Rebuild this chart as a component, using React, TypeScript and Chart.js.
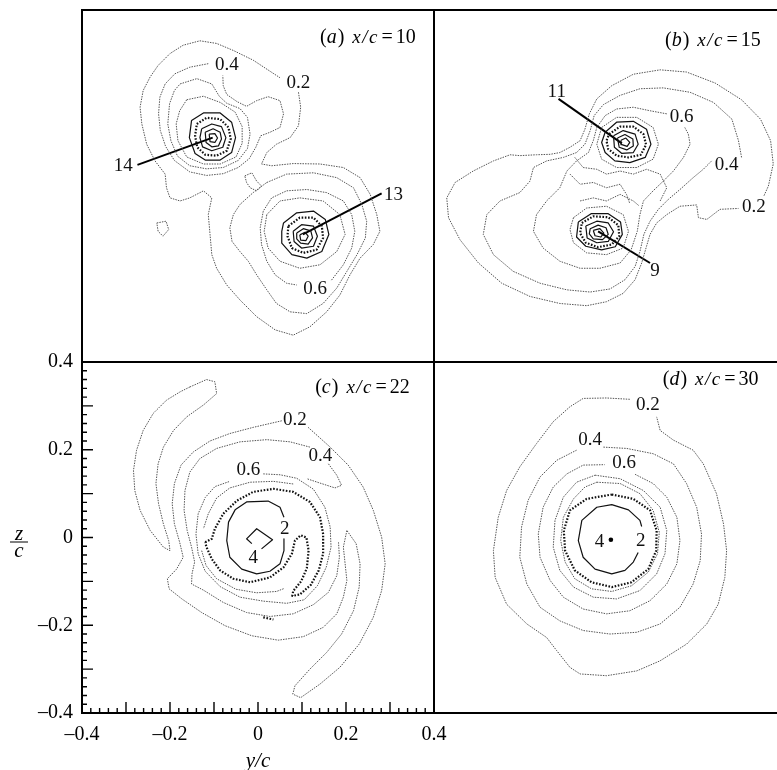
import React, { useEffect, useRef } from "react";
import { Chart, registerables } from "chart.js";

Chart.register(...registerables);

type Pt = [number, number]; // [y/c, z/c]

// ---------------- axis ticks (panel c) ----------------
const AXIS_TICKS = [-0.4, -0.2, 0, 0.2, 0.4];

// ---------------- panel headings ----------------
const HEAD_LETTER = ["a", "b", "c", "d"];
const HEAD_VALUE = ["10", "15", "22", "30"];
const HEAD_Y = [0.141, 0.125, 0.13, 0.12];
const HEAD_Z = [0.325, 0.318, 0.33, 0.348];

// ================= (a) x/c = 10 =================
const A_OUTER_02: Pt[] = [
  [0.092, 0.213], [0.097, 0.179], [0.092, 0.137], [0.073, 0.11], [0.042, 0.095], [0.02, 0.076], [0.008, 0.05],
  [0.031, 0.046], [0.08, 0.051], [0.141, 0.05], [0.194, 0.042], [0.232, 0.019], [0.255, -0.019], [0.27, -0.065],
  [0.277, -0.103], [0.262, -0.133], [0.232, -0.164], [0.209, -0.202], [0.186, -0.248], [0.156, -0.286],
  [0.118, -0.32], [0.08, -0.339], [0.039, -0.327], [-0.003, -0.297], [-0.041, -0.259], [-0.071, -0.225],
  [-0.094, -0.187], [-0.105, -0.156], [-0.109, -0.11], [-0.113, -0.065], [-0.105, -0.027], [-0.124, -0.011],
  [-0.155, -0.027], [-0.177, -0.034], [-0.2, -0.027], [-0.208, -0.004], [-0.211, 0.027], [-0.234, 0.057],
  [-0.253, 0.095], [-0.264, 0.141], [-0.268, 0.179], [-0.261, 0.217], [-0.245, 0.248], [-0.227, 0.274],
  [-0.2, 0.301], [-0.17, 0.32], [-0.132, 0.33], [-0.094, 0.324], [-0.056, 0.308], [-0.011, 0.286],
  [0.027, 0.261], [0.05, 0.246],
];
const A_TOP_04: Pt[] = [
  [-0.113, 0.278], [-0.155, 0.27], [-0.189, 0.255], [-0.211, 0.232], [-0.223, 0.202], [-0.226, 0.164],
  [-0.222, 0.126], [-0.21, 0.09], [-0.19, 0.058], [-0.155, 0.032], [-0.117, 0.024], [-0.079, 0.028],
  [-0.045, 0.042], [-0.02, 0.062], [-0.005, 0.088], [0.006, 0.114], [0.027, 0.122], [0.05, 0.133],
  [0.058, 0.164], [0.05, 0.194], [0.023, 0.203], [-0.003, 0.194], [-0.026, 0.181], [-0.048, 0.192],
  [-0.071, 0.208], [-0.079, 0.228], [-0.08, 0.251],
];
const A_TOP_06: Pt[] = [
  [-0.177, 0.232], [-0.139, 0.244], [-0.105, 0.232], [-0.088, 0.204], [-0.071, 0.188], [-0.041, 0.176],
  [-0.024, 0.156], [-0.018, 0.118], [-0.024, 0.085], [-0.045, 0.058], [-0.079, 0.042], [-0.117, 0.039],
  [-0.155, 0.046], [-0.183, 0.068], [-0.198, 0.103], [-0.205, 0.141], [-0.201, 0.187], [-0.19, 0.217],
];
const A_TOP_08: Pt[] = [
  [-0.162, 0.196], [-0.124, 0.204], [-0.086, 0.19], [-0.052, 0.168], [-0.036, 0.135], [-0.036, 0.097],
  [-0.05, 0.066], [-0.086, 0.05], [-0.124, 0.05], [-0.162, 0.066], [-0.182, 0.103], [-0.186, 0.141], [-0.178, 0.171],
];
const A_TOP_S1: Pt[] = [
  [-0.151, 0.149], [-0.124, 0.166], [-0.086, 0.166], [-0.06, 0.145], [-0.051, 0.11], [-0.06, 0.076],
  [-0.086, 0.059], [-0.12, 0.059], [-0.143, 0.074], [-0.156, 0.11],
];
const A_TOP_D: Pt[] = [
  [-0.139, 0.141], [-0.117, 0.155], [-0.086, 0.152], [-0.067, 0.133], [-0.062, 0.107], [-0.071, 0.08],
  [-0.094, 0.069], [-0.12, 0.071], [-0.138, 0.088], [-0.143, 0.114],
];
const A_TOP_S2: Pt[] = [
  [-0.128, 0.13], [-0.105, 0.141], [-0.083, 0.135], [-0.073, 0.11], [-0.08, 0.088], [-0.105, 0.08], [-0.126, 0.089], [-0.132, 0.11],
];
const A_TOP_S3: Pt[] = [
  [-0.12, 0.122], [-0.102, 0.13], [-0.086, 0.122], [-0.083, 0.107], [-0.09, 0.091], [-0.105, 0.089], [-0.118, 0.099],
];
const A_TOP_S4: Pt[] = [[-0.111, 0.118], [-0.098, 0.119], [-0.092, 0.109], [-0.098, 0.099], [-0.109, 0.101]];

const A_BOT_04: Pt[] = [
  [0.02, 0.008], [0.065, 0.027], [0.126, 0.03], [0.179, 0.019], [0.217, -0.004], [0.236, -0.042], [0.247, -0.08],
  [0.244, -0.118], [0.225, -0.156], [0.202, -0.194], [0.179, -0.232], [0.148, -0.267], [0.111, -0.29],
  [0.073, -0.286], [0.042, -0.267], [0.02, -0.236], [-0.003, -0.202], [-0.022, -0.171], [-0.041, -0.149],
  [-0.059, -0.126], [-0.064, -0.095], [-0.056, -0.065], [-0.041, -0.042], [-0.011, -0.015],
];
const A_BOT_06: Pt[] = [
  [0.167, -0.214], [0.194, -0.179], [0.213, -0.141], [0.22, -0.103], [0.213, -0.065], [0.194, -0.034],
  [0.156, -0.015], [0.111, -0.008], [0.065, -0.011], [0.031, -0.027], [0.012, -0.057], [0.005, -0.095],
  [0.008, -0.133], [0.02, -0.171], [0.039, -0.202], [0.065, -0.221], [0.088, -0.225],
];
const A_BOT_08: Pt[] = [
  [0.02, -0.065], [0.05, -0.034], [0.095, -0.027], [0.148, -0.034], [0.186, -0.065], [0.198, -0.11],
  [0.179, -0.149], [0.141, -0.179], [0.095, -0.187], [0.05, -0.171], [0.023, -0.141], [0.014, -0.103],
];
const A_BOT_S1: Pt[] = [
  [0.058, -0.084], [0.088, -0.061], [0.126, -0.057], [0.153, -0.076], [0.161, -0.11], [0.145, -0.149],
  [0.111, -0.164], [0.077, -0.156], [0.054, -0.13], [0.054, -0.103],
];
const A_BOT_D: Pt[] = [
  [0.069, -0.091], [0.095, -0.072], [0.126, -0.072], [0.145, -0.091], [0.148, -0.118], [0.133, -0.145],
  [0.103, -0.152], [0.077, -0.141], [0.067, -0.114],
];
const A_BOT_S2: Pt[] = [
  [0.08, -0.103], [0.099, -0.088], [0.126, -0.091], [0.135, -0.114], [0.126, -0.137], [0.099, -0.141], [0.082, -0.126],
];
const A_BOT_S3: Pt[] = [
  [0.088, -0.107], [0.103, -0.097], [0.12, -0.102], [0.124, -0.118], [0.114, -0.132], [0.097, -0.13], [0.088, -0.12],
];
const A_BOT_S4: Pt[] = [[0.095, -0.111], [0.107, -0.105], [0.114, -0.114], [0.109, -0.124], [0.097, -0.123]];
const A_MID: Pt[] = [[-0.03, 0.023], [-0.014, 0.03], [-0.003, 0.011], [0.008, 0.0], [-0.003, -0.011], [-0.018, -0.004], [-0.026, 0.008]];
const A_ISLAND: Pt[] = [[-0.23, -0.084], [-0.209, -0.08], [-0.203, -0.099], [-0.216, -0.114], [-0.227, -0.103]];
const A_LEAD_14: Pt[] = [[-0.274, 0.048], [-0.103, 0.11]];
const A_LEAD_13: Pt[] = [[0.281, -0.017], [0.102, -0.11]];
const A_LABEL_TEXT = ["0.4", "0.2", "14", "13", "0.6"];
const A_LABEL_Y = [-0.071, 0.092, -0.306, 0.308, 0.13];
const A_LABEL_Z = [0.278, 0.236, 0.048, -0.018, -0.232];

// ================= (b) x/c = 15 =================
const B_OUTER_02: Pt[] = [
  [0.35, -0.022], [0.36, 0.0], [0.371, 0.05], [0.365, 0.103], [0.342, 0.152], [0.299, 0.196], [0.239, 0.234],
  [0.174, 0.259], [0.114, 0.264], [0.053, 0.254], [0.004, 0.228], [-0.03, 0.198], [-0.047, 0.164],
  [-0.057, 0.129], [-0.068, 0.103], [-0.091, 0.088], [-0.114, 0.076], [-0.136, 0.072], [-0.167, 0.071],
  [-0.205, 0.069], [-0.227, 0.071], [-0.265, 0.057], [-0.311, 0.034], [-0.352, 0.008], [-0.371, -0.027],
  [-0.367, -0.072], [-0.341, -0.122], [-0.299, -0.175], [-0.246, -0.221], [-0.182, -0.251], [-0.114, -0.267],
  [-0.053, -0.272], [-0.008, -0.263], [0.03, -0.244], [0.057, -0.213], [0.072, -0.175], [0.083, -0.137],
  [0.091, -0.11], [0.106, -0.084], [0.129, -0.065], [0.159, -0.046], [0.197, -0.043], [0.201, -0.072],
  [0.22, -0.076], [0.25, -0.053], [0.292, -0.051],
];
const B_04: Pt[] = [
  [0.299, 0.065], [0.292, 0.103], [0.277, 0.152], [0.235, 0.19], [0.182, 0.213], [0.121, 0.223], [0.068, 0.221],
  [0.023, 0.206], [-0.015, 0.185], [-0.036, 0.16], [-0.045, 0.126], [-0.057, 0.095], [-0.076, 0.076],
  [-0.106, 0.065], [-0.144, 0.057], [-0.174, 0.042], [-0.182, 0.011], [-0.205, -0.015], [-0.25, -0.034],
  [-0.28, -0.065], [-0.288, -0.11], [-0.265, -0.156], [-0.22, -0.194], [-0.159, -0.221], [-0.098, -0.236],
  [-0.045, -0.241], [0.0, -0.234], [0.034, -0.213], [0.057, -0.183], [0.068, -0.149], [0.077, -0.11],
  [0.091, -0.08], [0.11, -0.053], [0.133, -0.03], [0.159, -0.008], [0.189, 0.019], [0.212, 0.038], [0.231, 0.057],
];
const B_06: Pt[] = [
  [0.129, 0.164], [0.091, 0.171], [0.053, 0.179], [0.015, 0.175], [-0.011, 0.16], [-0.03, 0.133], [-0.038, 0.103],
  [-0.049, 0.076], [-0.076, 0.057], [-0.098, 0.034], [-0.114, -0.004], [-0.144, -0.034], [-0.167, -0.065],
  [-0.174, -0.103], [-0.152, -0.141], [-0.114, -0.171], [-0.068, -0.187], [-0.023, -0.187], [0.023, -0.175],
  [0.048, -0.145], [0.062, -0.103], [0.068, -0.065], [0.076, -0.034], [0.098, -0.011], [0.121, 0.011],
  [0.144, 0.034], [0.167, 0.065], [0.182, 0.095], [0.178, 0.118], [0.17, 0.133],
];
const B_TOP_08: Pt[] = [
  [-0.019, 0.133], [0.015, 0.156], [0.061, 0.156], [0.098, 0.133], [0.11, 0.095], [0.098, 0.061], [0.061, 0.042],
  [0.015, 0.042], [-0.019, 0.061], [-0.03, 0.095],
];
const B_TOP_S1: Pt[] = [
  [-0.011, 0.122], [0.015, 0.145], [0.053, 0.147], [0.083, 0.129], [0.093, 0.095], [0.08, 0.065], [0.045, 0.053],
  [0.011, 0.057], [-0.011, 0.076], [-0.019, 0.099],
];
const B_TOP_D: Pt[] = [
  [-0.002, 0.118], [0.023, 0.135], [0.053, 0.135], [0.076, 0.118], [0.082, 0.094], [0.07, 0.071], [0.042, 0.065],
  [0.015, 0.069], [-0.004, 0.084], [-0.008, 0.103],
];
const B_TOP_S2: Pt[] = [[0.008, 0.114], [0.03, 0.126], [0.057, 0.118], [0.064, 0.095], [0.053, 0.076], [0.027, 0.074], [0.01, 0.088]];
const B_TOP_S3: Pt[] = [[0.017, 0.109], [0.034, 0.117], [0.052, 0.107], [0.053, 0.091], [0.038, 0.082], [0.021, 0.088]];
const B_TOP_S4: Pt[] = [[0.025, 0.104], [0.036, 0.109], [0.045, 0.099], [0.039, 0.09], [0.027, 0.094]];
const B_BOT_08: Pt[] = [
  [-0.083, -0.072], [-0.053, -0.05], [-0.008, -0.046], [0.03, -0.065], [0.042, -0.103], [0.03, -0.141],
  [-0.008, -0.156], [-0.053, -0.152], [-0.083, -0.129], [-0.091, -0.099],
];
const B_BOT_S1: Pt[] = [
  [-0.072, -0.082], [-0.043, -0.063], [-0.004, -0.063], [0.024, -0.082], [0.028, -0.11], [0.012, -0.138],
  [-0.019, -0.145], [-0.055, -0.137], [-0.076, -0.116],
];
const B_BOT_D: Pt[] = [
  [-0.064, -0.084], [-0.038, -0.069], [-0.004, -0.071], [0.019, -0.089], [0.021, -0.114], [0.004, -0.133],
  [-0.027, -0.139], [-0.055, -0.129], [-0.068, -0.107],
];
const B_BOT_S2: Pt[] = [[-0.055, -0.091], [-0.03, -0.08], [-0.004, -0.084], [0.008, -0.104], [-0.004, -0.126], [-0.03, -0.129], [-0.052, -0.118]];
const B_BOT_S3: Pt[] = [[-0.045, -0.097], [-0.027, -0.089], [-0.009, -0.095], [-0.004, -0.11], [-0.017, -0.122], [-0.038, -0.12], [-0.047, -0.109]];
const B_BOT_S4: Pt[] = [[-0.038, -0.101], [-0.023, -0.097], [-0.014, -0.107], [-0.021, -0.116], [-0.034, -0.113]];
const B_HATCH_1: Pt[] = [
  [-0.08, 0.065], [-0.061, 0.042], [-0.03, 0.038], [-0.008, 0.027], [0.023, 0.034], [0.053, 0.027], [0.083, 0.038],
  [0.114, 0.027], [0.129, -0.004], [0.114, -0.034],
];
const B_HATCH_2: Pt[] = [[-0.091, 0.027], [-0.068, 0.004], [-0.038, 0.008], [-0.008, -0.004], [0.023, 0.004], [0.038, -0.02], [0.045, -0.04]];
const B_HATCH_3: Pt[] = [[-0.068, -0.034], [-0.038, -0.027], [-0.008, -0.034], [0.023, -0.019], [0.053, -0.034], [0.066, -0.045]];
const B_LEAD_11: Pt[] = [[-0.117, 0.198], [0.027, 0.097]];
const B_LEAD_9: Pt[] = [[-0.027, -0.103], [0.091, -0.175]];
const B_LABEL_TEXT = ["11", "9", "0.6", "0.4", "0.2"];
const B_LABEL_Y = [-0.121, 0.102, 0.163, 0.265, 0.327];
const B_LABEL_Z = [0.216, -0.19, 0.16, 0.05, -0.046];

// ================= (c) x/c = 22 =================
const C_ARM: Pt[] = [
  [-0.155, 0.343], [-0.117, 0.36], [-0.098, 0.355], [-0.094, 0.328], [-0.124, 0.302], [-0.162, 0.275],
  [-0.192, 0.244], [-0.215, 0.206], [-0.227, 0.168], [-0.232, 0.123], [-0.226, 0.077], [-0.215, 0.031],
  [-0.203, -0.007], [-0.2, -0.03], [-0.215, -0.022], [-0.245, 0.016], [-0.268, 0.062], [-0.28, 0.107],
  [-0.283, 0.153], [-0.276, 0.199], [-0.261, 0.244], [-0.238, 0.283], [-0.208, 0.313], [-0.177, 0.332],
];
const C_OUTER_A: Pt[] = [
  [0.114, 0.251], [0.164, 0.206], [0.205, 0.165], [0.239, 0.115], [0.262, 0.062], [0.281, 0.001], [0.289, -0.06],
  [0.281, -0.121], [0.262, -0.182], [0.23, -0.243], [0.186, -0.296], [0.141, -0.334], [0.097, -0.365],
  [0.079, -0.357], [0.084, -0.338], [0.118, -0.3], [0.156, -0.262], [0.19, -0.22], [0.217, -0.167],
  [0.23, -0.113], [0.232, -0.06], [0.223, -0.014], [0.202, 0.016],
];
const C_OUTER_B: Pt[] = [
  [0.054, 0.266], [-0.011, 0.251], [-0.064, 0.237], [-0.109, 0.22], [-0.147, 0.195], [-0.175, 0.165],
  [-0.19, 0.123], [-0.195, 0.077], [-0.19, 0.031], [-0.178, -0.011], [-0.17, -0.045], [-0.185, -0.072],
  [-0.206, -0.094], [-0.202, -0.117], [-0.173, -0.14], [-0.128, -0.171], [-0.075, -0.201], [-0.014, -0.224],
  [0.046, -0.234], [0.103, -0.226], [0.148, -0.205], [0.179, -0.174], [0.194, -0.136], [0.202, -0.098],
  [0.198, -0.06], [0.194, -0.022], [0.202, 0.016],
];
const C_04: Pt[] = [
  [0.118, 0.206], [0.073, 0.218], [0.02, 0.223], [-0.041, 0.218], [-0.094, 0.203], [-0.132, 0.18], [-0.155, 0.149],
  [-0.166, 0.107], [-0.168, 0.062], [-0.161, 0.016], [-0.151, -0.022], [-0.144, -0.056], [-0.15, -0.083],
  [-0.151, -0.106], [-0.124, -0.12], [-0.079, -0.148], [-0.026, -0.171], [0.027, -0.18], [0.08, -0.174],
  [0.126, -0.153], [0.16, -0.125], [0.179, -0.087], [0.185, -0.045], [0.183, -0.011],
];
const C_04_HOOK: Pt[] = [[0.16, 0.168], [0.179, 0.142], [0.19, 0.119], [0.175, 0.113], [0.141, 0.124], [0.111, 0.134]];
const C_06: Pt[] = [
  [0.012, 0.145], [0.05, 0.143], [0.088, 0.135], [0.126, 0.11], [0.152, 0.069], [0.164, 0.024], [0.166, -0.022],
  [0.155, -0.068], [0.135, -0.11], [0.105, -0.142], [0.065, -0.15], [0.012, -0.145], [-0.041, -0.136],
  [-0.086, -0.112], [-0.12, -0.077], [-0.136, -0.037], [-0.141, 0.008], [-0.136, 0.054], [-0.12, 0.091],
  [-0.098, 0.116], [-0.064, 0.128],
];
const C_08_TOP: Pt[] = [[0.08, 0.122], [0.035, 0.128], [-0.018, 0.126], [-0.064, 0.113], [-0.094, 0.09], [-0.113, 0.054], [-0.124, 0.02]];
const C_08_BOT: Pt[] = [[-0.128, -0.03], [-0.118, -0.064], [-0.094, -0.094], [-0.05, -0.118], [-0.003, -0.126], [0.042, -0.123], [0.06, -0.116]];
const C_DOTTED: Pt[] = [
  [-0.12, -0.011], [-0.105, -0.003], [-0.098, 0.02], [-0.079, 0.054], [-0.048, 0.084], [-0.011, 0.104],
  [0.035, 0.111], [0.08, 0.104], [0.118, 0.081], [0.141, 0.046], [0.148, 0.008], [0.148, -0.037],
  [0.138, -0.075], [0.12, -0.108], [0.095, -0.13], [0.078, -0.133], [0.08, -0.122], [0.098, -0.1],
  [0.111, -0.07], [0.115, -0.03], [0.11, 0.0], [0.097, 0.005], [0.084, -0.007], [0.077, -0.037],
  [0.058, -0.068], [0.027, -0.091], [-0.018, -0.102], [-0.056, -0.094], [-0.086, -0.075], [-0.105, -0.049],
  [-0.117, -0.022],
];
const C_S2: Pt[] = [
  [0.059, -0.003], [0.059, -0.03], [0.05, -0.06], [0.027, -0.077], [-0.003, -0.083], [-0.037, -0.072],
  [-0.064, -0.045], [-0.071, -0.007], [-0.067, 0.035], [-0.052, 0.063], [-0.026, 0.081], [0.023, 0.083],
  [0.05, 0.069], [0.059, 0.046],
];
const C_S4: Pt[] = [[0.008, -0.026], [0.033, -0.005], [-0.003, 0.02], [-0.026, -0.003], [-0.014, -0.014]];
const C_BIT: Pt[] = [[0.012, -0.182], [0.035, -0.187]];
const C_LABEL_TEXT = ["0.2", "0.4", "0.6", "2", "4"];
const C_LABEL_Y = [0.084, 0.142, -0.022, 0.061, -0.011];
const C_LABEL_Z = [0.27, 0.187, 0.157, 0.021, -0.045];

// ================= (d) x/c = 30 =================
const D_02: Pt[] = [
  [0.045, 0.315], [-0.008, 0.318], [-0.061, 0.317], [-0.091, 0.298], [-0.129, 0.264], [-0.167, 0.214],
  [-0.205, 0.161], [-0.235, 0.107], [-0.254, 0.046], [-0.265, -0.03], [-0.261, -0.091], [-0.235, -0.152],
  [-0.189, -0.197], [-0.144, -0.228], [-0.121, -0.258], [-0.091, -0.296], [-0.068, -0.311], [-0.008, -0.315],
  [0.061, -0.304], [0.114, -0.281], [0.174, -0.243], [0.22, -0.197], [0.246, -0.152], [0.261, -0.091],
  [0.265, -0.03], [0.258, 0.031], [0.242, 0.1], [0.212, 0.168], [0.189, 0.199], [0.144, 0.222], [0.114, 0.244],
  [0.106, 0.275],
];
const D_04: Pt[] = [
  [-0.015, 0.206], [0.038, 0.203], [0.098, 0.191], [0.144, 0.168], [0.174, 0.123], [0.197, 0.069], [0.208, 0.008],
  [0.205, -0.053], [0.189, -0.106], [0.159, -0.159], [0.114, -0.197], [0.061, -0.216], [0.0, -0.22],
  [-0.061, -0.212], [-0.114, -0.19], [-0.159, -0.159], [-0.189, -0.106], [-0.205, -0.045], [-0.201, 0.024],
  [-0.186, 0.085], [-0.159, 0.138], [-0.121, 0.176], [-0.076, 0.199],
];
const D_06: Pt[] = [
  [0.057, 0.144], [0.098, 0.123], [0.129, 0.092], [0.152, 0.046], [0.159, -0.007], [0.152, -0.06], [0.129, -0.106],
  [0.091, -0.144], [0.045, -0.167], [-0.008, -0.174], [-0.061, -0.163], [-0.106, -0.136], [-0.136, -0.098],
  [-0.159, -0.045], [-0.163, 0.008], [-0.152, 0.069], [-0.129, 0.115], [-0.098, 0.145], [-0.061, 0.165], [-0.012, 0.166],
];
const D_08: Pt[] = [
  [-0.034, 0.142], [0.023, 0.134], [0.076, 0.107], [0.114, 0.069], [0.129, 0.016], [0.125, -0.037], [0.106, -0.083],
  [0.068, -0.121], [0.015, -0.14], [-0.038, -0.136], [-0.083, -0.113], [-0.114, -0.075], [-0.129, -0.022],
  [-0.125, 0.039], [-0.106, 0.092], [-0.076, 0.126],
];
const D_10: Pt[] = [
  [-0.03, 0.126], [0.023, 0.123], [0.068, 0.1], [0.098, 0.062], [0.112, 0.012], [0.108, -0.037], [0.087, -0.079],
  [0.049, -0.11], [0.004, -0.123], [-0.042, -0.117], [-0.08, -0.094], [-0.102, -0.056], [-0.112, -0.007],
  [-0.106, 0.046], [-0.083, 0.088], [-0.057, 0.115],
];
const D_DOTTED: Pt[] = [
  [0.004, 0.098], [0.053, 0.088], [0.091, 0.062], [0.106, 0.016], [0.105, -0.03], [0.087, -0.072], [0.049, -0.102],
  [0.004, -0.113], [-0.042, -0.102], [-0.08, -0.075], [-0.102, -0.03], [-0.105, 0.016], [-0.091, 0.062], [-0.053, 0.088],
];
const D_S2: Pt[] = [
  [0.064, -0.034], [0.053, -0.056], [0.034, -0.075], [0.004, -0.083], [-0.034, -0.072], [-0.061, -0.045],
  [-0.072, -0.007], [-0.064, 0.039], [-0.03, 0.069], [0.004, 0.075], [0.042, 0.063], [0.068, 0.039], [0.072, 0.025],
];
const D_CENTER: Pt[] = [[0.002, -0.005]];
const D_LABEL_TEXT = ["0.2", "0.4", "0.6", "4", "2"];
const D_LABEL_Y = [0.086, -0.045, 0.032, -0.024, 0.07];
const D_LABEL_Z = [0.304, 0.225, 0.172, -0.007, -0.005];

// ---------------- styles ----------------
const STYLES: Record<string, { color: string; width: number; dash: number[] }> = {
  grey: { color: "#555555", width: 1, dash: [1.5, 1.1] },
  dot: { color: "#111111", width: 2.2, dash: [1.6, 1.6] },
  solid: { color: "#111111", width: 1.2, dash: [] },
  lead: { color: "#000000", width: 2, dash: [] },
};

type Contour = { pts: Pt[]; style: string; closed: boolean };
type Panel = {
  idx: number;
  contours: Contour[];
  labelText: string[];
  labelY: number[];
  labelZ: number[];
  points?: Pt[];
};

const c = (pts: Pt[], style: string, closed: boolean): Contour => ({ pts, style, closed });

const PANEL_A: Panel = {
  idx: 0,
  contours: [
    c(A_OUTER_02, "grey", false), c(A_TOP_04, "grey", false), c(A_TOP_06, "grey", true), c(A_TOP_08, "grey", true),
    c(A_TOP_S1, "solid", true), c(A_TOP_D, "dot", true), c(A_TOP_S2, "solid", true), c(A_TOP_S3, "solid", true),
    c(A_TOP_S4, "solid", true), c(A_BOT_04, "grey", true), c(A_BOT_06, "grey", false), c(A_BOT_08, "grey", true),
    c(A_BOT_S1, "solid", true), c(A_BOT_D, "dot", true), c(A_BOT_S2, "solid", true), c(A_BOT_S3, "solid", true),
    c(A_BOT_S4, "solid", true), c(A_MID, "grey", true), c(A_ISLAND, "grey", true),
    c(A_LEAD_14, "lead", false), c(A_LEAD_13, "lead", false),
  ],
  labelText: A_LABEL_TEXT, labelY: A_LABEL_Y, labelZ: A_LABEL_Z,
};
const PANEL_B: Panel = {
  idx: 1,
  contours: [
    c(B_OUTER_02, "grey", false), c(B_04, "grey", false), c(B_06, "grey", false),
    c(B_TOP_08, "grey", true), c(B_TOP_S1, "solid", true), c(B_TOP_D, "dot", true), c(B_TOP_S2, "solid", true),
    c(B_TOP_S3, "solid", true), c(B_TOP_S4, "solid", true),
    c(B_BOT_08, "grey", true), c(B_BOT_S1, "solid", true), c(B_BOT_D, "dot", true), c(B_BOT_S2, "solid", true),
    c(B_BOT_S3, "solid", true), c(B_BOT_S4, "solid", true),
    c(B_HATCH_1, "grey", false), c(B_HATCH_2, "grey", false), c(B_HATCH_3, "grey", false),
    c(B_LEAD_11, "lead", false), c(B_LEAD_9, "lead", false),
  ],
  labelText: B_LABEL_TEXT, labelY: B_LABEL_Y, labelZ: B_LABEL_Z,
};
const PANEL_C: Panel = {
  idx: 2,
  contours: [
    c(C_ARM, "grey", true), c(C_OUTER_A, "grey", false), c(C_OUTER_B, "grey", false), c(C_04, "grey", false),
    c(C_04_HOOK, "grey", false), c(C_06, "grey", false), c(C_08_TOP, "grey", false), c(C_08_BOT, "grey", false),
    c(C_DOTTED, "dot", true), c(C_S2, "solid", false), c(C_S4, "solid", false), c(C_BIT, "dot", false),
  ],
  labelText: C_LABEL_TEXT, labelY: C_LABEL_Y, labelZ: C_LABEL_Z,
};
const PANEL_D: Panel = {
  idx: 3,
  contours: [
    c(D_02, "grey", false), c(D_04, "grey", false), c(D_06, "grey", false), c(D_08, "grey", true),
    c(D_10, "grey", true), c(D_DOTTED, "dot", true), c(D_S2, "solid", false),
  ],
  labelText: D_LABEL_TEXT, labelY: D_LABEL_Y, labelZ: D_LABEL_Z,
  points: D_CENTER,
};

const SERIF = '"Liberation Serif", "Times New Roman", serif';

function toDataset(ct: Contour) {
  const s = STYLES[ct.style];
  const data = ct.pts.map(([y, z]) => ({ x: y, y: z }));
  if (ct.closed) data.push({ x: ct.pts[0][0], y: ct.pts[0][1] });
  return {
    data,
    showLine: true,
    fill: false,
    tension: 0,
    pointRadius: 0,
    pointHoverRadius: 0,
    pointHitRadius: 0,
    borderColor: s.color,
    borderWidth: s.width,
    borderDash: s.dash,
    borderCapStyle: "butt",
    borderJoinStyle: "round",
  };
}

const fmtTick = (v: number) => {
  const r = Math.round(v * 10) / 10;
  if (r === 0) return "0";
  return (r < 0 ? "\u2013" : "") + Math.abs(r).toString();
};

function decorPlugin(p: Panel, withAxes: boolean) {
  return {
    id: "decor" + p.idx,
    afterDatasetsDraw(chart: any) {
      const ctx: CanvasRenderingContext2D = chart.ctx;
      const a = chart.chartArea;
      const xs = chart.scales.x;
      const ys = chart.scales.y;
      ctx.save();
      // contour level labels
      ctx.fillStyle = "#111";
      ctx.font = `19px ${SERIF}`;
      ctx.textAlign = "center";
      ctx.textBaseline = "middle";
      p.labelText.forEach((t, i) => {
        ctx.fillText(t, xs.getPixelForValue(p.labelY[i]), ys.getPixelForValue(p.labelZ[i]) + 1);
      });
      // panel heading
      ctx.fillStyle = "#000";
      ctx.textAlign = "left";
      ctx.textBaseline = "alphabetic";
      let cx = xs.getPixelForValue(HEAD_Y[p.idx]);
      const by = ys.getPixelForValue(HEAD_Z[p.idx]);
      const up = `20px ${SERIF}`;
      const it = `italic 20px ${SERIF}`;
      const sm = `italic 19px ${SERIF}`;
      const seg = (t: string, f: string, gap: number) => {
        ctx.font = f;
        ctx.fillText(t, cx, by);
        cx += ctx.measureText(t).width + gap;
      };
      seg("(", up, 0);
      seg(HEAD_LETTER[p.idx], it, 1);
      seg(")", up, 8);
      seg("x", sm, 1.5);
      seg("/", sm, 1.5);
      seg("c", sm, 4);
      seg("=", up, 3);
      seg(HEAD_VALUE[p.idx], up, 0);
      // frame
      ctx.strokeStyle = "#000";
      ctx.lineWidth = 2;
      ctx.strokeRect(a.left, a.top, a.right - a.left, a.bottom - a.top);
      if (withAxes) {
        // inward tick marks: major every 0.1, minor every 0.02
        ctx.lineWidth = 1.4;
        ctx.beginPath();
        for (let i = -20; i <= 20; i++) {
          const v = i * 0.02;
          const len = i % 5 === 0 ? 11 : 5;
          const px = xs.getPixelForValue(v);
          ctx.moveTo(px, a.bottom);
          ctx.lineTo(px, a.bottom - len);
          const py = ys.getPixelForValue(v);
          ctx.moveTo(a.left, py);
          ctx.lineTo(a.left + len, py);
        }
        ctx.stroke();
        // axis titles
        ctx.font = `italic 21px ${SERIF}`;
        ctx.textAlign = "center";
        ctx.fillText("y/c", xs.getPixelForValue(0), a.bottom + 54);
        const y0 = ys.getPixelForValue(0);
        ctx.fillText("z", 19, y0 + 2.5);
        ctx.fillText("c", 19, y0 + 19.5);
        ctx.lineWidth = 1;
        ctx.beginPath();
        ctx.moveTo(10, y0 + 4.5);
        ctx.lineTo(28, y0 + 4.5);
        ctx.stroke();
      }
      ctx.restore();
    },
  };
}

function makeChart(canvas: HTMLCanvasElement, p: Panel, withAxes: boolean) {
  const datasets: any[] = p.contours.map(toDataset);
  if (p.points) {
    datasets.push({
      data: p.points.map(([y, z]) => ({ x: y, y: z })),
      showLine: false,
      pointRadius: 2.3,
      pointHoverRadius: 2.3,
      pointBackgroundColor: "#000",
      pointBorderWidth: 0,
    });
  }
  const hidden = { type: "linear", min: -0.4, max: 0.4, display: false };
  const setTicks = (s: any) => {
    s.ticks = AXIS_TICKS.map((v) => ({ value: v }));
  };
  const zeroPad = (s: any) => {
    s.paddingLeft = 0;
    s.paddingRight = 0;
    s.paddingTop = 0;
    s.paddingBottom = 0;
  };
  const tickFont = { family: SERIF, size: 20 };
  const scales = withAxes
    ? {
        x: {
          type: "linear",
          position: "bottom",
          min: -0.4,
          max: 0.4,
          grid: { display: false, drawTicks: false },
          border: { display: false },
          ticks: { font: tickFont, color: "#000", padding: 10, maxRotation: 0, autoSkip: false, callback: fmtTick },
          afterBuildTicks: setTicks,
          afterFit: (s: any) => {
            s.height = 57;
            zeroPad(s);
          },
        },
        y: {
          type: "linear",
          position: "left",
          min: -0.4,
          max: 0.4,
          grid: { display: false, drawTicks: false },
          border: { display: false },
          ticks: { font: tickFont, color: "#000", padding: 9, autoSkip: false, callback: fmtTick },
          afterBuildTicks: setTicks,
          afterFit: (s: any) => {
            s.width = 82;
            zeroPad(s);
          },
        },
      }
    : { x: hidden, y: hidden };
  return new Chart(canvas, {
    type: "scatter",
    data: { datasets },
    options: {
      animation: false,
      responsive: false,
      maintainAspectRatio: false,
      events: [],
      layout: { autoPadding: false, padding: withAxes ? { top: 14, right: 26, bottom: 0, left: 0 } : 2 },
      plugins: { legend: { display: false }, tooltip: { enabled: false } },
      scales: scales as any,
    },
    plugins: [decorPlugin(p, withAxes)],
  } as any);
}

export default function App() {
  const refA = useRef<HTMLCanvasElement>(null);
  const refB = useRef<HTMLCanvasElement>(null);
  const refC = useRef<HTMLCanvasElement>(null);
  const refD = useRef<HTMLCanvasElement>(null);

  useEffect(() => {
    const charts = [
      makeChart(refA.current!, PANEL_A, false),
      makeChart(refB.current!, PANEL_B, false),
      makeChart(refD.current!, PANEL_D, false),
      makeChart(refC.current!, PANEL_C, true),
    ];
    return () => charts.forEach((ch) => ch.destroy());
  }, []);

  const abs = (left: number, top: number, z: number): React.CSSProperties => ({
    position: "absolute",
    left,
    top,
    zIndex: z,
  });

  return (
    <div
      style={{
        position: "absolute",
        left: 0,
        top: 0,
        width: 777,
        height: 770,
        overflow: "hidden",
        background: "#fff",
      }}
    >
      <canvas ref={refA} width={356} height={356} style={abs(80, 8, 1)} />
      <canvas ref={refB} width={356} height={356} style={abs(432, 8, 1)} />
      <canvas ref={refD} width={356} height={355} style={abs(432, 360, 1)} />
      <canvas ref={refC} width={460} height={422} style={abs(0, 348, 2)} />
    </div>
  );
}
